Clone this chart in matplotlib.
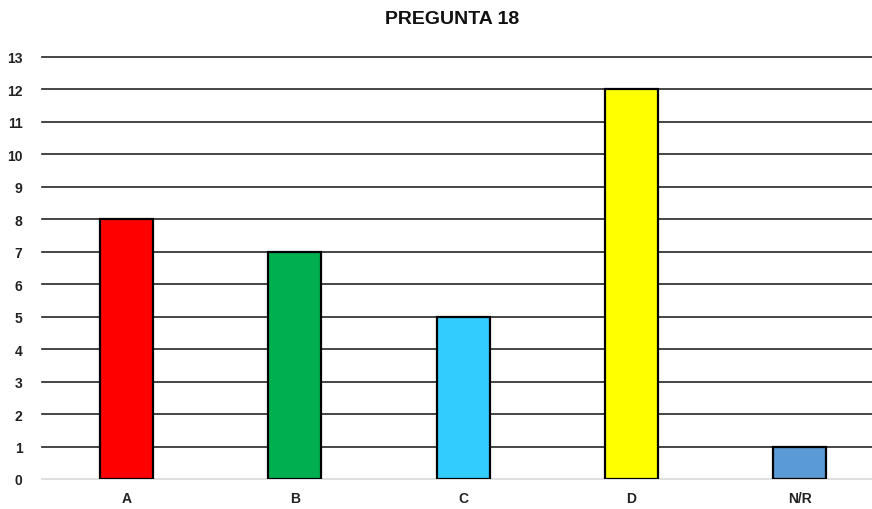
import matplotlib
matplotlib.use("Agg")
import matplotlib.pyplot as plt

categories = ["A", "B", "C", "D", "N/R"]
counts = [8, 7, 5, 12, 1]
bar_colors = ["#FF0000", "#00B050", "#33CCFF", "#FFFF00", "#5B9BD5"]
y_ticks = list(range(0, 14))

plt.rcParams["font.family"] = ["Liberation Sans Narrow", "Liberation Sans", "DejaVu Sans"]

fig = plt.figure(figsize=(8.72, 5.10), dpi=100)
ax = fig.add_axes([42 / 872, 1 - 480 / 510, 830 / 872, 422 / 510])

x = list(range(len(categories)))
ax.bar(x, counts, width=0.315, color=bar_colors, edgecolor="black",
       linewidth=1.6, zorder=3)

ax.set_xlim(-0.503, 4.43)
ax.set_ylim(0, 13)
ax.set_yticks(y_ticks)
ax.set_yticklabels([str(t) for t in y_ticks], fontsize=10, fontweight="bold",
                   color="#222222")
ax.set_xticks(x)
ax.set_xticklabels(categories, fontsize=10, fontweight="bold", color="#222222")
ax.tick_params(axis="both", length=0)
ax.tick_params(axis="y", pad=14)
ax.tick_params(axis="x", pad=9)

for t in y_ticks[1:]:
    ax.axhline(t, color="#262626", linewidth=1.2, zorder=1, clip_on=False)
ax.axhline(0, color="#D9D9D9", linewidth=1.2, zorder=1, clip_on=False)

for side in ax.spines.values():
    side.set_visible(False)

fig.text(452 / 872, 1 - 20 / 510, "PREGUNTA 18", ha="center", va="center",
         fontsize=14, fontweight="bold", color="#111111")

fig.savefig("out.png", dpi=100)
